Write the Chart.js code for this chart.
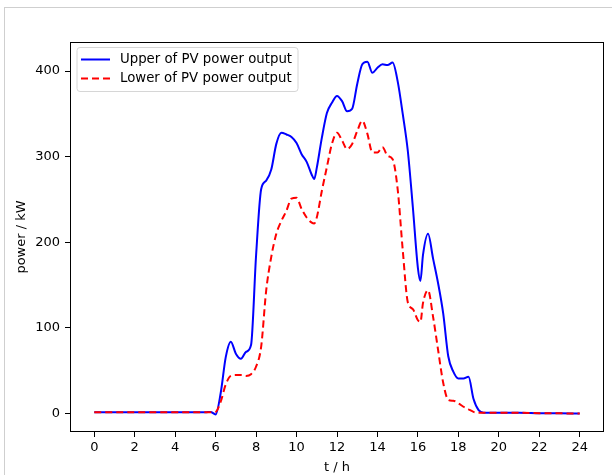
<!DOCTYPE html>
<html>
<head>
<meta charset="utf-8">
<script src="https://cdn.jsdelivr.net/npm/chart.js@4.4.1/dist/chart.umd.min.js"></script>
<style>
  html, body { margin: 0; padding: 0; background: #fff; }
  #wrap { position: relative; width: 612px; height: 475px; overflow: hidden; }
  #frame { position: absolute; left: 4px; top: 7px; width: 800px; height: 800px;
           border-left: 1px solid #cfcfcf; border-top: 1px solid #cfcfcf; pointer-events: none; }
  canvas { position: absolute; left: 0; top: 0; }
</style>
</head>
<body>
<div id="wrap">
  <canvas id="c" width="612" height="475"></canvas>
  <div id="frame"></div>
</div>
<script>
// ---- data ----
const hours = [0, 1, 2, 3, 4, 5, 5.5, 5.75,
  6, 6.25, 6.5, 6.75, 7, 7.25, 7.5, 7.75, 8, 8.25, 8.5, 8.75,
  9, 9.25, 9.5, 9.75, 10, 10.25, 10.5, 10.75, 10.875, 11, 11.25, 11.5, 11.75,
  12, 12.25, 12.5, 12.75, 13, 13.25, 13.5, 13.75, 14, 14.25, 14.5, 14.75,
  15, 15.25, 15.5, 15.75, 16, 16.125, 16.25, 16.5, 16.75, 17, 17.25, 17.5, 17.75,
  18, 18.25, 18.5, 18.75, 19, 19.25, 19.5, 20, 21, 22, 23, 24];

const upperPV = [1.5, 1.5, 1.5, 1.5, 1.5, 1.5, 1.5, 2,
  -1, 24, 66, 84, 70, 64, 72, 80, 185, 262, 272, 285,
  315, 328, 326, 323, 316, 303, 294, 279, 274, 287, 322, 351, 363,
  371, 365, 353, 356, 385, 408, 411, 398, 404, 408, 407, 410,
  388, 350, 307, 241, 170, 155, 185, 210, 181, 152, 117, 67, 49,
  41, 41, 43, 17, 4, 1, 1, 1, 1, 0.5, 0.3, 0];

const lowerPV = [1.5, 1.5, 1.5, 1.5, 1.5, 1.5, 1.5, 1.5,
  2, 14, 34, 44, 45, 45, 44, 46, 55, 78, 144, 183,
  210, 225, 237, 251, 252, 239, 229, 223, 222, 229, 260, 288, 315,
  328, 319, 309, 315, 330, 342, 327, 305, 305, 311, 301, 297,
  262, 191, 130, 122, 109, 107, 129, 144, 113, 74, 36, 16, 15,
  12, 8, 5, 2, 1, 1, 1, 1, 1, 0.5, 0.3, 0];

const xTicks = [0, 2, 4, 6, 8, 10, 12, 14, 16, 18, 20, 22, 24];
const yTicks = [0, 100, 200, 300, 400];
const seriesNames = ['Upper of PV power output', 'Lower of PV power output'];
const axisTitles = { x: 't / h', y: 'power / kW' };

const FONT = 'DejaVu Sans';

const framePlugin = {
  id: 'frame',
  afterDatasetsDraw(chart) {
    const { ctx, chartArea: a } = chart;
    ctx.save();
    ctx.strokeStyle = '#000';
    ctx.lineWidth = 1;
    ctx.strokeRect(Math.round(a.left) + 0.5, Math.round(a.top) + 0.5,
                   Math.round(a.right - a.left) - 1, Math.round(a.bottom - a.top) - 1);
    ctx.restore();
  }
};

const legendPlugin = {
  id: 'mplLegend',
  afterDraw(chart) {
    const { ctx, chartArea: a } = chart;
    const x0 = a.left + 7, y0 = a.top + 5.5, w = 221, h = 44, r = 3;
    ctx.save();
    ctx.beginPath();
    ctx.moveTo(x0 + r, y0);
    ctx.lineTo(x0 + w - r, y0); ctx.quadraticCurveTo(x0 + w, y0, x0 + w, y0 + r);
    ctx.lineTo(x0 + w, y0 + h - r); ctx.quadraticCurveTo(x0 + w, y0 + h, x0 + w - r, y0 + h);
    ctx.lineTo(x0 + r, y0 + h); ctx.quadraticCurveTo(x0, y0 + h, x0, y0 + h - r);
    ctx.lineTo(x0, y0 + r); ctx.quadraticCurveTo(x0, y0, x0 + r, y0);
    ctx.closePath();
    ctx.fillStyle = 'rgba(255,255,255,0.8)';
    ctx.fill();
    ctx.strokeStyle = '#d6d6d6';
    ctx.lineWidth = 1;
    ctx.stroke();
    const ds = chart.data.datasets;
    ds.forEach((d, i) => {
      const yy = y0 + 12 + i * 19;
      ctx.beginPath();
      ctx.strokeStyle = d.borderColor;
      ctx.lineWidth = 2;
      ctx.setLineDash(d.borderDash || []);
      ctx.moveTo(x0 + 4, yy);
      ctx.lineTo(x0 + 33, yy);
      ctx.stroke();
      ctx.setLineDash([]);
      ctx.fillStyle = '#000';
      ctx.font = '13.3px "' + FONT + '"';
      ctx.textBaseline = 'middle';
      ctx.textAlign = 'left';
      ctx.fillText(d.label, x0 + 43, yy);
    });
    ctx.restore();
  }
};

const toPts = arr => hours.map((h, i) => ({ x: h, y: arr[i] }));

new Chart(document.getElementById('c'), {
  type: 'line',
  data: {
    datasets: [
      { label: seriesNames[0], data: toPts(upperPV), borderColor: '#0000ff', borderWidth: 2,
        pointRadius: 0, cubicInterpolationMode: 'monotone', fill: false, order: 2 },
      { label: seriesNames[1], data: toPts(lowerPV), borderColor: '#ff0000', borderWidth: 2,
        borderDash: [7, 4], pointRadius: 0, cubicInterpolationMode: 'monotone', fill: false, order: 1 }
    ]
  },
  options: {
    responsive: false,
    animation: false,
    devicePixelRatio: 1,
    layout: { padding: { left: 0, right: 8, top: 42, bottom: 0 } },
    plugins: { legend: { display: false }, tooltip: { enabled: false } },
    scales: {
      x: {
        type: 'linear', min: -1.2, max: 25.2,
        afterBuildTicks(s) { s.ticks = xTicks.map(v => ({ value: v })); },
        afterFit(s) { s.height = 43; },
        grid: { display: true, drawOnChartArea: false, drawTicks: true, tickLength: 5, color: '#000', lineWidth: 1 },
        border: { display: false },
        ticks: { color: '#000', font: { family: FONT, size: 13 }, padding: 3, maxRotation: 0, autoSkip: false },
        title: { display: true, text: axisTitles.x, color: '#000', font: { family: FONT, size: 13 }, padding: { top: 0, bottom: 0 } }
      },
      y: {
        type: 'linear', min: -21.5, max: 434,
        afterBuildTicks(s) { s.ticks = yTicks.map(v => ({ value: v })); },
        afterFit(s) { s.width = 70; },
        grid: { display: true, drawOnChartArea: false, drawTicks: true, tickLength: 5, color: '#000', lineWidth: 1 },
        border: { display: false },
        ticks: { color: '#000', font: { family: FONT, size: 13 }, padding: 5, autoSkip: false },
        title: { display: true, text: axisTitles.y, color: '#000', font: { family: FONT, size: 13 }, padding: { top: 14, bottom: 0 } }
      }
    }
  },
  plugins: [framePlugin, legendPlugin]
});
</script>
</body>
</html>
